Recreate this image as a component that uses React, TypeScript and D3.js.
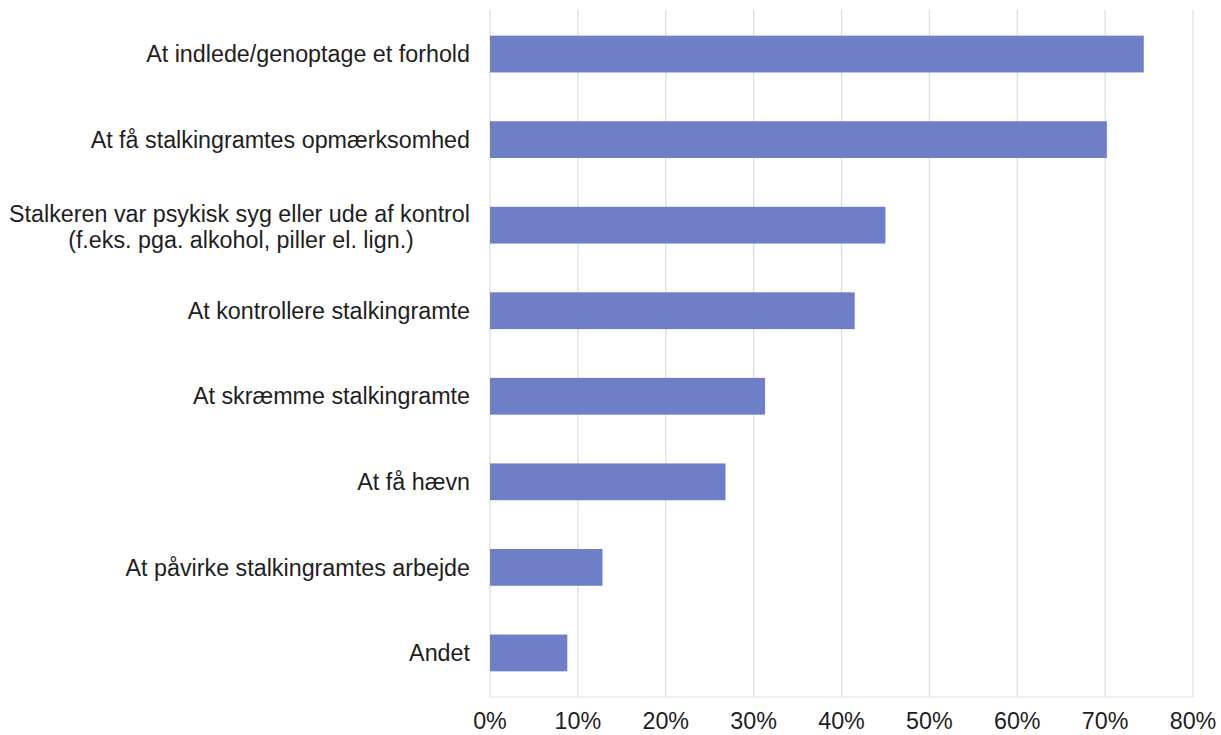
import * as d3 from 'd3';
import * as React from 'react';

const categories = [
  ['At indlede/genoptage et forhold'],
  ['At få stalkingramtes opmærksomhed'],
  ['Stalkeren var psykisk syg eller ude af kontrol', '(f.eks. pga. alkohol, piller el. lign.)'],
  ['At kontrollere stalkingramte'],
  ['At skræmme stalkingramte'],
  ['At få hævn'],
  ['At påvirke stalkingramtes arbejde'],
  ['Andet'],
];
const values = [0.744, 0.702, 0.45, 0.415, 0.313, 0.268, 0.128, 0.088];
const tickValues = [0, 0.1, 0.2, 0.3, 0.4, 0.5, 0.6, 0.7, 0.8];

const width = 1221;
const height = 735;
const margin = { top: 10, right: 28, bottom: 38, left: 490 };
const barColor = '#6f7fc7';
const font = '"Liberation Sans", Arial, sans-serif';
const fontSize = 23.3;

export default function App() {
  const x = d3.scaleLinear().domain([0, 0.8]).range([margin.left, width - margin.right]);
  const y = d3
    .scaleBand<number>()
    .domain(d3.range(categories.length))
    .range([margin.top, height - margin.bottom])
    .paddingInner(0.57)
    .paddingOuter(0.3);
  const fmt = d3.format('.0%');
  const labelX = margin.left - 20;

  return (
    <svg width={width} height={height} style={{ position: 'absolute', left: 0, top: 0, background: '#fff' }}>
      {tickValues.map((t) => (
        <line key={t} x1={x(t)} x2={x(t)} y1={margin.top} y2={height - margin.bottom} stroke="#d8dde4" strokeWidth={1.2} />
      ))}
      <line x1={x(0)} x2={x(0.8)} y1={height - margin.bottom} y2={height - margin.bottom} stroke="#e0e3e8" strokeWidth={1} />
      {values.map((v, i) => (
        <rect key={i} x={x(0)} y={y(i)} width={x(v) - x(0)} height={y.bandwidth()} fill={barColor} />
      ))}
      {categories.map((lines, i) => {
        const cy = (y(i) as number) + y.bandwidth() / 2;
        if (lines.length === 1) {
          return (
            <text key={i} x={labelX} y={cy} dy="0.35em" textAnchor="end" fontFamily={font} fontSize={fontSize} fill="#1e1e1e">
              {lines[0]}
            </text>
          );
        }
        return (
          <g key={i} fontFamily={font} fontSize={fontSize} fill="#1e1e1e">
            <text x={labelX} y={cy - 11} dy="0.35em" textAnchor="end">{lines[0]}</text>
            <text x={labelX - 229} y={cy + 15} dy="0.35em" textAnchor="middle">{lines[1]}</text>
          </g>
        );
      })}
      {tickValues.map((t) => (
        <text key={t} x={x(t)} y={height - 14} dy="0.35em" textAnchor="middle" fontFamily={font} fontSize={fontSize} fill="#1e1e1e">
          {fmt(t)}
        </text>
      ))}
    </svg>
  );
}
